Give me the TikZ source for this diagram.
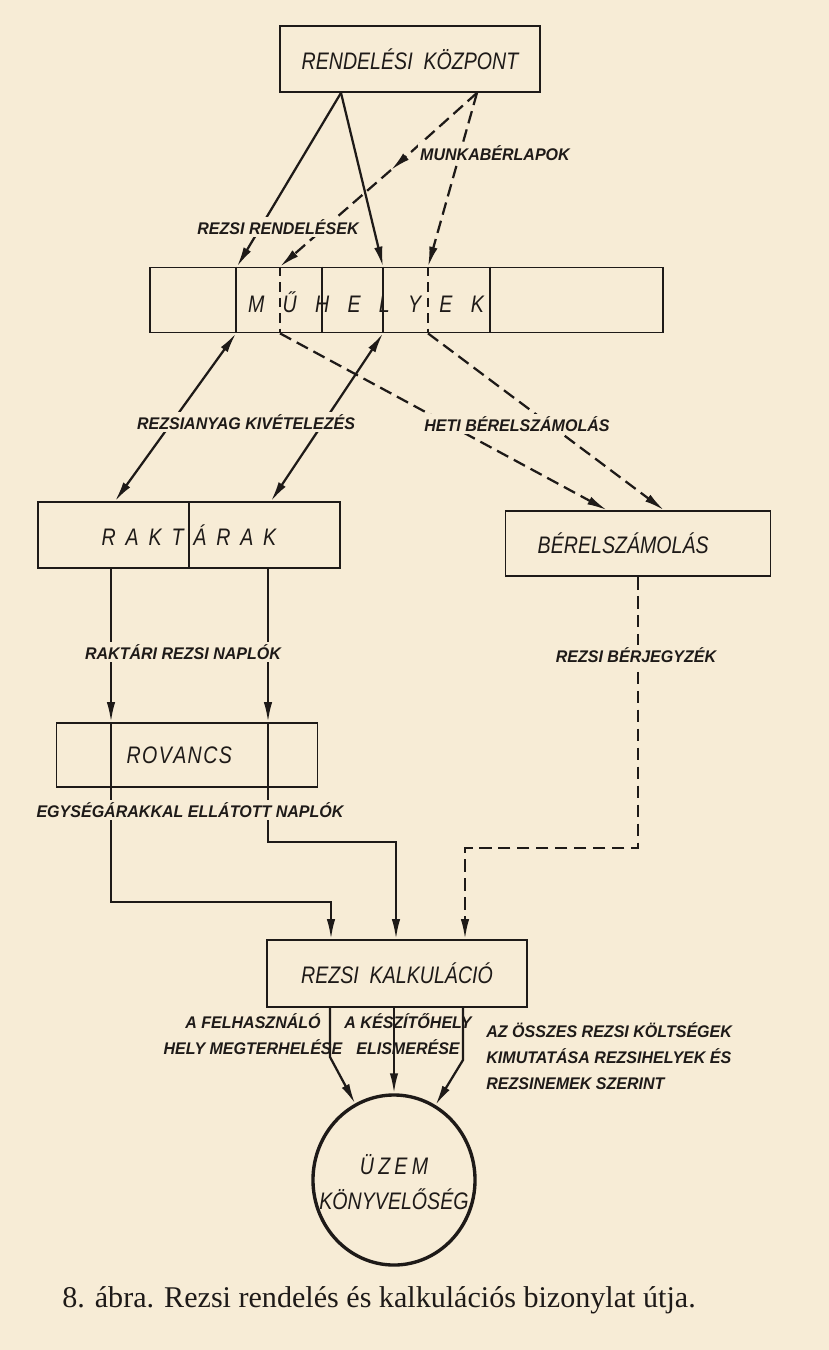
\documentclass[tikz,border=0pt]{standalone}
\usepackage{fontspec}
\setmainfont{Liberation Serif}
\newfontfamily\kezi[FakeStretch=0.82]{Liberation Sans}
\newfontfamily\kezib[FakeStretch=0.95]{Liberation Sans}
\usetikzlibrary{arrows.meta,shapes.geometric}
\definecolor{papir}{RGB}{247,236,214}
\definecolor{tinta}{RGB}{30,26,24}
\newcommand{\tav}[1][7pt]{\hspace{#1}}

\begin{document}
\begin{tikzpicture}[x=0.025cm,y=-0.025cm,>={Latex[length=5mm,width=2.1mm]}]
\tikzset{doboz/.style={draw=tinta, line width=1.2pt, text=tinta, font=\kezi\itshape\fontsize{17}{20}\selectfont},
felirat/.style={fill=papir, inner sep=1.5pt, text=tinta, align=center, font=\kezib\bfseries\itshape\fontsize{12}{19}\selectfont},
vonal/.style={draw=tinta, line width=1.2pt},
nyil/.style={draw=tinta, line width=1.6pt, ->},
ketnyil/.style={draw=tinta, line width=1.6pt, <->},
szagg/.style={nyil, dash pattern=on 9pt off 4.5pt}}
\fill[papir] (0,0) rectangle (829,1350);
\node[doboz, minimum width=6.5cm, minimum height=1.65cm] (RK) at (410,59) {RENDELÉSI\ \ KÖZPONT};
\node[doboz, minimum width=12.825cm, minimum height=1.625cm] (MH) at (406.5,300) {};
\node[doboz, draw=none] (MHT) at (366,302) {M\tav[13pt]Ű\tav[13pt]H\tav[13pt]E\tav[13pt]L\tav[13pt]Y\tav[13pt]E\tav[13pt]K};
\node[doboz, minimum width=7.55cm, minimum height=1.65cm] (RA) at (189,535) {R\tav A\tav K\tav T\tav Á\tav R\tav A\tav K};
\node[doboz, minimum width=6.625cm, minimum height=1.625cm] (BE) at (638,543.5) {BÉRELSZÁMOLÁS\hspace*{21pt}};
\node[doboz, minimum width=6.525cm, minimum height=1.6cm] (RO) at (187,755) {R\tav[1pt]O\tav[1pt]V\tav[1pt]A\tav[1pt]N\tav[1pt]C\tav[1pt]S\hspace*{11pt}};
\node[doboz, minimum width=6.5cm, minimum height=1.675cm] (KA) at (397,973.5) {REZSI\ \ KALKULÁCIÓ};
\node[doboz, ellipse, line width=2.4pt, inner sep=0pt, minimum width=4.05cm, minimum height=4.25cm] (UK) at (394,1180) {};
\node[doboz, draw=none, align=center, font=\kezi\itshape\fontsize{17}{25}\selectfont] (UKT) at (394,1182) {Ü\tav[3pt]Z\tav[3pt]E\tav[3pt]M\\KÖNYVELŐSÉG};
\coordinate (m1) at (391,170);
\draw[vonal] (MH.north -| 236,0) -- (MH.south -| 236,0);
\draw[vonal] (MH.north -| 322,0) -- (MH.south -| 322,0);
\draw[vonal] (MH.north -| 383,0) -- (MH.south -| 383,0);
\draw[vonal] (MH.north -| 490,0) -- (MH.south -| 490,0);
\draw[vonal, dash pattern=on 7pt off 4pt] (MH.north -| 280,0) -- (MH.south -| 280,0);
\draw[vonal, dash pattern=on 7pt off 4pt] (MH.north -| 428,0) -- (MH.south -| 428,0);
\draw[vonal] (RA.north) -- (RA.south);
\draw[vonal] (RO.north -| 111,0) -- (RO.south -| 111,0);
\draw[vonal] (RO.north -| 268,0) -- (RO.south -| 268,0);
\draw[nyil] (RK.south -| 341,0) -- (MH.north -| 237,0);
\draw[nyil] (RK.south -| 341,0) -- (MH.north -| 383,0);
\draw[szagg] (RK.south -| 477,0) -- (m1);
\draw[szagg] (m1) -- (MH.north -| 280,0);
\draw[szagg] (RK.south -| 477,0) -- (MH.north -| 428,0);
\draw[ketnyil] (MH.south -| 236,0) -- (RA.north -| 115,0);
\draw[ketnyil] (MH.south -| 383,0) -- (RA.north -| 271,0);
\draw[szagg] (MH.south -| 280,0) -- (BE.north -| 607,0);
\draw[szagg] (MH.south -| 428,0) -- (BE.north -| 664,0);
\draw[nyil] (RA.south -| 111,0) -- (RO.north -| 111,0);
\draw[nyil] (RA.south -| 268,0) -- (RO.north -| 268,0);
\draw[nyil] (RO.south -| 111,0) |- (331,902) -- (KA.north -| 331,0);
\draw[nyil] (RO.south -| 268,0) |- (396,842) -- (KA.north -| 396,0);
\draw[szagg] (BE.south) |- (465,848) -- (KA.north -| 465,0);
\draw[nyil] (KA.south -| 330,0) -- (330,1057) -- (UK.117);
\draw[nyil] (KA.south -| 394,0) -- (UK.north);
\draw[nyil] (KA.south -| 463,0) -- (463,1060) -- (UK.61);
\node[felirat] (RR) at (278,227) {REZSI RENDELÉSEK};
\node[felirat] (MB) at (495,153) {MUNKABÉRLAPOK};
\node[felirat] (AK) at (246,422) {REZSIANYAG KIVÉTELEZÉS};
\node[felirat] (HB) at (517,424) {HETI BÉRELSZÁMOLÁS};
\node[felirat] (RN) at (183,652) {RAKTÁRI REZSI NAPLÓK};
\node[felirat] (BJ) at (636,655) {REZSI BÉRJEGYZÉK};
\node[felirat] (EN) at (190,810) {EGYSÉGÁRAKKAL ELLÁTOTT NAPLÓK};
\node[felirat, fill=none] (FM) at (253,1034) {A FELHASZNÁLÓ\\HELY MEGTERHELÉSE};
\node[felirat, fill=none] (KE) at (408,1034) {A KÉSZÍTŐHELY\\ELISMERÉSE};
\node[felirat, fill=none, align=left, anchor=west, font=\kezib\bfseries\itshape\fontsize{12}{18.5}\selectfont] (OK) at (484,1056) {AZ ÖSSZES REZSI KÖLTSÉGEK\\KIMUTATÁSA REZSIHELYEK ÉS\\REZSINEMEK SZERINT};
\node[text=tinta, font=\fontsize{21.4}{24}\selectfont] (cim) at (379,1300) {8. ábra. Rezsi rendelés és kalkulációs bizonylat útja.};
\end{tikzpicture}
\end{document}
